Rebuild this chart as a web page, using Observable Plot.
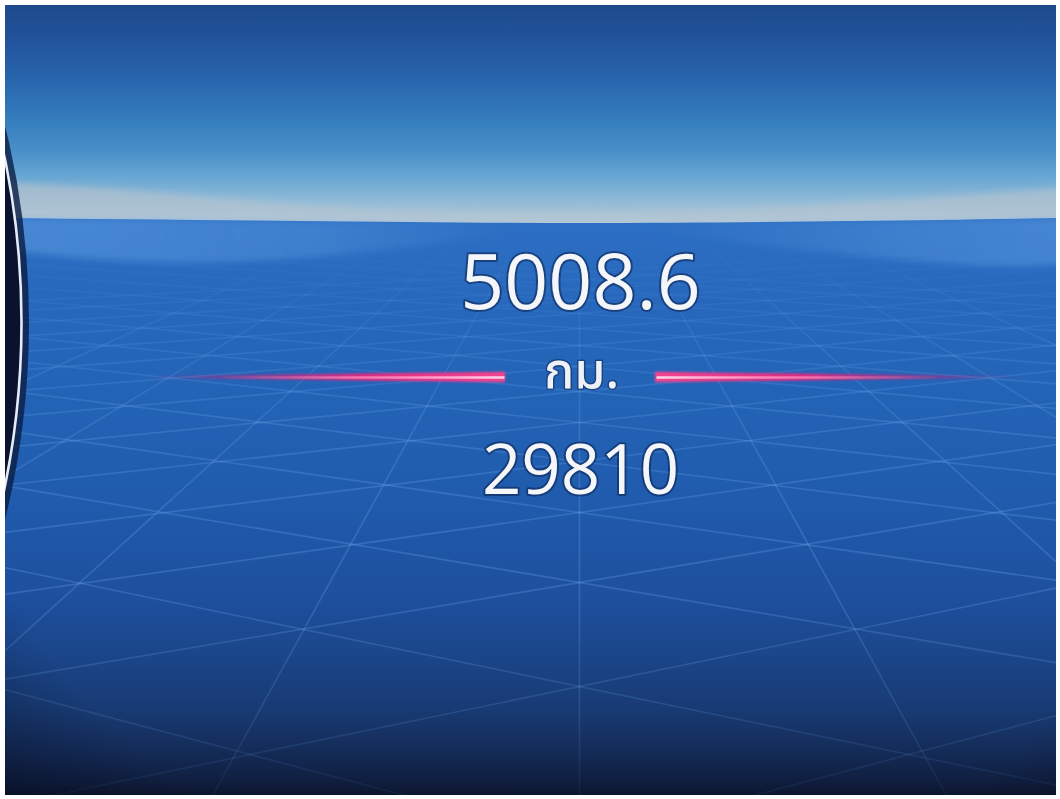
<!DOCTYPE html>
<html>
<head>
<meta charset="utf-8">
<script src="https://cdn.jsdelivr.net/npm/d3@7"></script>
<script src="https://cdn.jsdelivr.net/npm/@observablehq/plot@0.6"></script>
<style>
html,body{margin:0;padding:0;background:#fff;overflow:hidden}
#chart{width:1060px;height:799px;overflow:hidden}
#chart svg{display:block}
</style>
</head>
<body>
<div id="chart"></div>
<script>
// ---- data ----
const readings = [
  {label: "5008.6", role: "trip"},
  {label: "29810", role: "odometer"}
];
const unitLabels = [{label: "กม."}];
// centre-line intercepts of the diagonal floor grid (px)
const gridRows = [841, 686, 582, 512, 461, 422, 391, 366, 345, 328, 313, 300, 289, 279, 271];
// slopes (dx/dy) of the radial floor lines
const gridRadials = [-2.2, -1.65, -1.1, -0.55, 0, 0.55, 1.1, 1.65, 2.2];

// ---- layout ----
const W = 1060, H = 799;
const G = {cx: 579, vpY: 128, focal: 2700};
const T = {trip: {y: 308, size: 77}, odo: {y: 493, size: 69}, unit: {y: 387, size: 50}, x: 580};
const pinkY = 377;
const skyRect = [{x1: 0, x2: W, y1: 0, y2: 230}];
const bandTop = [[0,182],[150,192],[300,205],[450,211],[580,212],[750,208],[900,200],[1060,188]].map(([x,y]) => ({x, y}));
const horizon = [[0,218],[300,221],[580,223],[850,221],[1060,218]].map(([x,y]) => ({x, y}));
const swoosh = [[0,218,250],[150,219,262],[300,221,258],[450,222,242],[580,223,229],[720,222,240],[880,221,258],[1000,219,266],[1060,218,264]].map(([x,t,b]) => ({x, t, b}));
const pinkLeft = [{x: 140, h: 0.8}, {x: 505, h: 5.2}];
const pinkRight = [{x: 655, h: 5.2}, {x: 1025, h: 0.8}];
const ring = [{x: -790, y: 322}];

const segs = [];
for (const yc of gridRows) {
  const s = (yc - G.vpY) / G.focal;
  segs.push({x1: 0, y1: yc + s * G.cx, x2: W, y2: yc - s * (W - G.cx)});
  segs.push({x1: 0, y1: yc - s * G.cx, x2: W, y2: yc + s * (W - G.cx)});
}
for (const k of gridRadials) {
  const a = 232, b = H;
  segs.push({x1: G.cx + k * (a - G.vpY), y1: a, x2: G.cx + k * (b - G.vpY), y2: b});
}

const defs = () => {
  const d = document.createElementNS("http://www.w3.org/2000/svg", "defs");
  d.innerHTML = `
  <linearGradient id="sky" gradientUnits="userSpaceOnUse" x1="0" y1="5" x2="0" y2="222">
    <stop offset="0" stop-color="#1d4a8d"/>
    <stop offset="0.16" stop-color="#21539b"/>
    <stop offset="0.35" stop-color="#2866ad"/>
    <stop offset="0.55" stop-color="#3780bf"/>
    <stop offset="0.68" stop-color="#4a91c9"/>
    <stop offset="0.8" stop-color="#6ba8d3"/>
    <stop offset="0.9" stop-color="#90bad7"/>
    <stop offset="1" stop-color="#adc5d5"/>
  </linearGradient>
  <linearGradient id="band" gradientUnits="userSpaceOnUse" x1="0" y1="182" x2="0" y2="222">
    <stop offset="0" stop-color="#9eb9ce"/>
    <stop offset="1" stop-color="#b3c7d5"/>
  </linearGradient>
  <linearGradient id="floor" gradientUnits="userSpaceOnUse" x1="0" y1="218" x2="0" y2="795">
    <stop offset="0" stop-color="#2d6fc4"/>
    <stop offset="0.142" stop-color="#2768bc"/>
    <stop offset="0.315" stop-color="#2363b6"/>
    <stop offset="0.489" stop-color="#205bad"/>
    <stop offset="0.662" stop-color="#1d4f9d"/>
    <stop offset="0.766" stop-color="#1b4588"/>
    <stop offset="0.853" stop-color="#183a72"/>
    <stop offset="0.922" stop-color="#142c58"/>
    <stop offset="0.974" stop-color="#101f40"/>
    <stop offset="1" stop-color="#0d162e"/>
  </linearGradient>
  <linearGradient id="swoosh" gradientUnits="userSpaceOnUse" x1="0" y1="0" x2="1060" y2="0">
    <stop offset="0" stop-color="#6aa8e8" stop-opacity="0.45"/>
    <stop offset="0.3" stop-color="#6aa8e8" stop-opacity="0.3"/>
    <stop offset="0.48" stop-color="#6aa8e8" stop-opacity="0"/>
    <stop offset="0.62" stop-color="#6aa8e8" stop-opacity="0"/>
    <stop offset="0.85" stop-color="#6aa8e8" stop-opacity="0.3"/>
    <stop offset="1" stop-color="#6aa8e8" stop-opacity="0.4"/>
  </linearGradient>
  <linearGradient id="gridFade" gradientUnits="userSpaceOnUse" x1="0" y1="224" x2="0" y2="795">
    <stop offset="0" stop-color="#6aa4ea" stop-opacity="0"/>
    <stop offset="0.1" stop-color="#6aa4ea" stop-opacity="0.06"/>
    <stop offset="0.2" stop-color="#6aa4ea" stop-opacity="0.16"/>
    <stop offset="0.35" stop-color="#6aa4ea" stop-opacity="0.26"/>
    <stop offset="0.6" stop-color="#6aa4ea" stop-opacity="0.3"/>
    <stop offset="0.85" stop-color="#6aa4ea" stop-opacity="0.18"/>
    <stop offset="1" stop-color="#6aa4ea" stop-opacity="0.06"/>
  </linearGradient>
  <linearGradient id="pinkL" gradientUnits="userSpaceOnUse" x1="140" y1="0" x2="505" y2="0">
    <stop offset="0" stop-color="#c0207a" stop-opacity="0"/>
    <stop offset="0.25" stop-color="#d02078" stop-opacity="0.5"/>
    <stop offset="0.6" stop-color="#e8287f" stop-opacity="0.95"/>
    <stop offset="1" stop-color="#f54390" stop-opacity="1"/>
  </linearGradient>
  <linearGradient id="pinkR" gradientUnits="userSpaceOnUse" x1="1025" y1="0" x2="655" y2="0">
    <stop offset="0" stop-color="#c0207a" stop-opacity="0"/>
    <stop offset="0.25" stop-color="#d02078" stop-opacity="0.5"/>
    <stop offset="0.6" stop-color="#e8287f" stop-opacity="0.95"/>
    <stop offset="1" stop-color="#f54390" stop-opacity="1"/>
  </linearGradient>
  <linearGradient id="coreL" gradientUnits="userSpaceOnUse" x1="220" y1="0" x2="505" y2="0">
    <stop offset="0" stop-color="#ffb6d6" stop-opacity="0"/>
    <stop offset="0.6" stop-color="#ff9cc6" stop-opacity="0.75"/>
    <stop offset="1" stop-color="#ffd8ea" stop-opacity="1"/>
  </linearGradient>
  <linearGradient id="coreR" gradientUnits="userSpaceOnUse" x1="940" y1="0" x2="655" y2="0">
    <stop offset="0" stop-color="#ffb6d6" stop-opacity="0"/>
    <stop offset="0.6" stop-color="#ff9cc6" stop-opacity="0.75"/>
    <stop offset="1" stop-color="#ffd8ea" stop-opacity="1"/>
  </linearGradient>
  <radialGradient id="vig" gradientUnits="userSpaceOnUse" cx="580" cy="250" r="900">
    <stop offset="0" stop-color="#02061a" stop-opacity="0"/>
    <stop offset="0.74" stop-color="#02061a" stop-opacity="0"/>
    <stop offset="1" stop-color="#02061a" stop-opacity="0.6"/>
  </radialGradient>
  <filter id="soft3" x="-5%" y="-50%" width="110%" height="200%"><feGaussianBlur stdDeviation="3"/></filter>
  <filter id="soft1" x="-5%" y="-50%" width="110%" height="200%"><feGaussianBlur stdDeviation="0.9"/></filter>
  <filter id="soft06"><feGaussianBlur stdDeviation="0.5"/></filter>
  `;
  return d;
};

const withFilter = (id) => (index, scales, values, dims, ctx, next) => {
  const g = next(index, scales, values, dims, ctx);
  g.setAttribute("filter", `url(#${id})`);
  return g;
};

const font = "'Open Sans', 'Noto Sans', sans-serif";

const chart = Plot.plot({
  width: W,
  height: H,
  margin: 0,
  x: {domain: [0, W], range: [0, W], axis: null},
  y: {domain: [0, H], range: [0, H], axis: null},
  style: {background: "#fff"},
  marks: [
    defs,
    Plot.rect(skyRect, {x1: "x1", x2: "x2", y1: "y1", y2: "y2", fill: "url(#sky)"}),
    Plot.areaY(bandTop, {x: "x", y1: "y", y2: () => 230, fill: "url(#band)", curve: "natural", render: withFilter("soft3")}),
    Plot.areaY(horizon, {x: "x", y1: "y", y2: () => H, fill: "url(#floor)", curve: "natural"}),
    Plot.areaY(swoosh, {x: "x", y1: "t", y2: "b", fill: "url(#swoosh)", curve: "natural", render: withFilter("soft3")}),
    Plot.link(segs, {x1: "x1", y1: "y1", x2: "x2", y2: "y2", stroke: "url(#gridFade)", strokeWidth: 1.6, render: withFilter("soft06")}),
    Plot.rect(skyRect, {x1: () => 0, x2: () => W, y1: () => 0, y2: () => H, fill: "url(#vig)"}),
    // left gauge ring
    Plot.dot(ring, {x: "x", y: "y", r: 815, fill: "none", stroke: "#0b1d44", strokeWidth: 7, strokeOpacity: 0.8}),
    Plot.dot(ring, {x: "x", y: "y", r: 811, fill: "#0a1230", stroke: "#e6ecf4", strokeWidth: 2.6}),
    // pink separator lines
    Plot.areaY(pinkLeft, {x: "x", y1: d => pinkY - d.h, y2: d => pinkY + d.h, fill: "url(#pinkL)", render: withFilter("soft1")}),
    Plot.areaY(pinkRight, {x: "x", y1: d => pinkY - d.h, y2: d => pinkY + d.h, fill: "url(#pinkR)", render: withFilter("soft1")}),
    Plot.link([{a: 220, b: 504}], {x1: "a", x2: "b", y1: () => pinkY, y2: () => pinkY, stroke: "url(#coreL)", strokeWidth: 2.6}),
    Plot.link([{a: 656, b: 940}], {x1: "a", x2: "b", y1: () => pinkY, y2: () => pinkY, stroke: "url(#coreR)", strokeWidth: 2.6}),
    // readings
    Plot.text(readings.filter(d => d.role === "trip"), {x: () => T.x, y: () => T.trip.y, text: "label", fontSize: T.trip.size, fontFamily: font, fill: "#f4f6f9", stroke: "#0e2656", strokeWidth: 4, strokeOpacity: 0.6, textAnchor: "middle", lineAnchor: "bottom"}),
    Plot.text(unitLabels, {x: () => T.x + 1, y: () => T.unit.y, text: "label", fontSize: T.unit.size, fontWeight: 500, fontFamily: "'Noto Sans Thai', 'Noto Sans Thai Looped', 'Noto Sans', sans-serif", fill: "#eef2f7", stroke: "#0e2656", strokeWidth: 3, strokeOpacity: 0.55, textAnchor: "middle", lineAnchor: "bottom"}),
    Plot.text(readings.filter(d => d.role === "odometer"), {x: () => T.x, y: () => T.odo.y, text: "label", fontSize: T.odo.size, fontFamily: font, fill: "#f4f6f9", stroke: "#0e2656", strokeWidth: 4, strokeOpacity: 0.6, textAnchor: "middle", lineAnchor: "bottom"}),
    // white photo border
    Plot.frame({stroke: "#ffffff", strokeWidth: 9})
  ]
});
document.getElementById("chart").appendChild(chart);
</script>
</body>
</html>
